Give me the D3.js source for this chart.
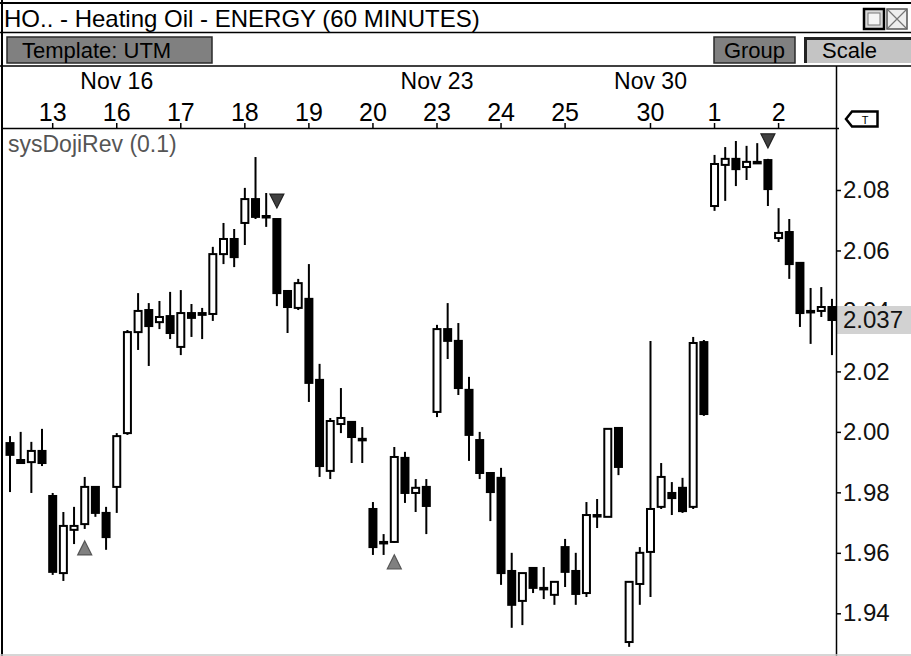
<!DOCTYPE html>
<html lang="en">
<head>
<meta charset="utf-8">
<title>HO - Heating Oil 60 min</title>
<script src="https://d3js.org/d3.v7.min.js"></script>
<style>
  html, body { margin: 0; padding: 0; background: #fff; }
  svg { display: block; font-family: "Liberation Sans", Arial, sans-serif; }
</style>
</head>
<body>
<svg id="chart" width="911" height="656"></svg>
<script>
// hourly bars, Nov 12 (partial) .. Dec 2
const opens = [1.9963,1.9907,1.9900,1.9937,1.9788,1.9533,1.9676,1.9695,1.9818,1.9732,
  1.9818,1.9996,2.0330,2.0403,2.0363,2.0383,2.0281,2.0393,2.0393,2.0390,
  2.0588,2.0638,2.0691,2.0770,2.0714,2.0704,2.0466,2.0410,2.0440,2.0172,
  1.9871,2.0026,2.0033,1.9977,1.9745,1.9636,1.9636,1.9914,1.9798,1.9818,
  2.0066,2.0340,2.0301,2.0139,1.9973,1.9864,1.9848,1.9540,1.9441,1.9550,
  1.9484,1.9461,1.9619,1.9540,1.9467,1.9725,1.9719,2.0013,1.9305,1.9497,
  1.9603,1.9752,1.9798,1.9815,1.9752,2.0297,2.0747,2.0883,2.0903,2.0876,
  2.0893,2.0899,2.0641,2.0661,2.0559,2.0400,2.0400,2.0413];
const highs = [1.9986,2.0000,1.9967,2.0010,1.9798,1.9735,1.9752,1.9851,1.9818,1.9752,
  1.9996,2.0337,2.0459,2.0426,2.0433,2.0463,2.0469,2.0423,2.0410,2.0612,
  2.0691,2.0671,2.0807,2.0909,2.0790,2.0704,2.0466,2.0506,2.0555,2.0225,
  2.0046,2.0145,2.0033,2.0016,1.9768,1.9662,1.9950,1.9934,1.9844,1.9844,
  2.0354,2.0426,2.0360,2.0182,2.0000,1.9864,1.9881,1.9600,1.9533,1.9550,
  1.9553,1.9504,1.9646,1.9600,1.9768,1.9778,2.0010,2.0016,1.9504,1.9619,
  2.0301,1.9897,1.9834,1.9848,2.0314,2.0304,2.0916,2.0942,2.0962,2.0946,
  2.0955,2.0903,2.0740,2.0704,2.0559,2.0476,2.0479,2.0440];
const lows = [1.9801,1.9894,1.9798,1.9887,1.9527,1.9507,1.9629,1.9679,1.9719,1.9610,
  1.9732,1.9990,2.0271,2.0218,2.0340,2.0307,2.0254,2.0314,2.0307,2.0367,
  2.0555,2.0545,2.0618,2.0704,2.0678,2.0416,2.0327,2.0403,2.0099,1.9851,
  1.9844,1.9996,1.9897,1.9897,1.9593,1.9593,1.9633,1.9765,1.9735,1.9662,
  2.0049,2.0241,2.0122,1.9904,1.9844,1.9705,1.9494,1.9352,1.9361,1.9467,
  1.9447,1.9428,1.9487,1.9428,1.9454,1.9682,1.9719,1.9857,1.9289,1.9428,
  1.9454,1.9745,1.9725,1.9732,1.9745,2.0053,2.0731,2.0764,2.0813,2.0833,
  2.0886,2.0747,2.0628,2.0506,2.0347,2.0291,2.0380,2.0254];
const closes = [1.9924,1.9897,1.9937,1.9897,1.9537,1.9689,1.9689,1.9818,1.9732,1.9652,
  1.9986,2.0330,2.0400,2.0350,2.0380,2.0327,2.0393,2.0377,2.0387,2.0588,
  2.0638,2.0578,2.0770,2.0711,2.0711,2.0459,2.0413,2.0492,2.0162,1.9887,
  2.0036,2.0046,1.9983,1.9973,1.9619,1.9633,1.9917,1.9798,1.9815,1.9755,
  2.0340,2.0301,2.0145,1.9990,1.9864,1.9801,1.9533,1.9428,1.9533,1.9484,
  1.9481,1.9504,1.9537,1.9464,1.9725,1.9722,2.0010,1.9884,1.9504,1.9600,
  1.9745,1.9851,1.9781,1.9738,2.0294,2.0059,2.0886,2.0903,2.0869,2.0893,
  2.0889,2.0803,2.0658,2.0555,2.0393,2.0398,2.0413,2.0370];

// first bar of each labelled session
const dayBars = [4, 10, 16, 22, 28, 34, 40, 46, 52, 60, 66, 72];
const dayLabels = ["13", "16", "17", "18", "19", "20", "23", "24", "25", "30", "1", "2"];
const weekBars = [10, 40, 60];
const weekLabels = ["Nov 16", "Nov 23", "Nov 30"];

const priceTicks = [1.94, 1.96, 1.98, 2.00, 2.02, 2.04, 2.06, 2.08];
const lastPrice = 2.037;

// sysDojiRev signals
const signalBars = [7, 25, 36, 71];
const signalDirs = ["up", "down", "up", "down"];

const svg = d3.select('#chart');
const plot = {left: 3, right: 836, top: 129, bottom: 656};

const x = d3.scaleBand()
  .domain(d3.range(opens.length))
  .range([4.66, 837.3]);
const cx = i => x(i) + x.bandwidth() / 2;

const y = d3.scaleLinear()
  .domain([1.94, 2.08])
  .range([613.3, 190]);

svg.append('rect').attr('width', 911).attr('height', 656).attr('fill', '#fff');

svg.append('defs').append('clipPath').attr('id', 'plotClip')
  .append('rect')
    .attr('x', plot.left).attr('y', plot.top)
    .attr('width', plot.right - plot.left).attr('height', plot.bottom - plot.top);

// --- window frame / title bar
svg.append('line').attr('x1', 0).attr('x2', 911).attr('y1', 3).attr('y2', 3)
  .attr('stroke', '#000').attr('stroke-width', 2);
svg.append('line').attr('x1', 2).attr('x2', 2).attr('y1', 0).attr('y2', 656)
  .attr('stroke', '#000').attr('stroke-width', 2);
svg.append('text')
  .attr('x', 4).attr('y', 27)
  .style('font-size', '24px')
  .text('HO.. - Heating Oil - ENERGY (60 MINUTES)');

// title bar buttons
svg.append('rect').attr('x', 864).attr('y', 9).attr('width', 20).attr('height', 20)
  .attr('fill', '#d8d8d8').attr('stroke', '#000').attr('stroke-width', 2.5);
svg.append('rect').attr('x', 868).attr('y', 13).attr('width', 12).attr('height', 12)
  .attr('fill', '#f4f4f4').attr('stroke', '#777').attr('stroke-width', 1);
svg.append('rect').attr('x', 887).attr('y', 9).attr('width', 20).attr('height', 20)
  .attr('fill', '#eee').attr('stroke', '#555').attr('stroke-width', 1.5);
svg.append('path').attr('d', 'M888,10L906,28M906,10L888,28')
  .attr('stroke', '#777').attr('stroke-width', 1.2);

svg.append('line').attr('x1', 0).attr('x2', 911).attr('y1', 32.5).attr('y2', 32.5)
  .attr('stroke', '#000').attr('stroke-width', 1.5);

// --- toolbar
svg.append('rect').attr('x', 7).attr('y', 37).attr('width', 205).attr('height', 26)
  .attr('fill', '#808080').attr('stroke', '#2a2a2a').attr('stroke-width', 1.5);
svg.append('text').attr('x', 22).attr('y', 58).style('font-size', '22px').text('Template: UTM');

svg.append('rect').attr('x', 714).attr('y', 37).attr('width', 81).attr('height', 26)
  .attr('fill', '#808080').attr('stroke', '#2a2a2a').attr('stroke-width', 1.5);
svg.append('text').attr('x', 754.5).attr('y', 58).attr('text-anchor', 'middle')
  .style('font-size', '22px').text('Group');

svg.append('rect').attr('x', 804).attr('y', 37).attr('width', 110).attr('height', 26)
  .attr('fill', '#c4c4c4');
svg.append('path').attr('d', 'M805.5,63V38.5H911')
  .attr('fill', 'none').attr('stroke', '#222').attr('stroke-width', 3);
svg.append('text').attr('x', 822).attr('y', 58).style('font-size', '22px').text('Scale');

svg.append('line').attr('x1', 0).attr('x2', 911).attr('y1', 66).attr('y2', 66)
  .attr('stroke', '#000').attr('stroke-width', 1.5);

// --- time header
const header = svg.append('g');
header.selectAll('text.week')
  .data(weekBars)
  .enter().append('text')
    .attr('class', 'week')
    .attr('x', d => cx(d))
    .attr('y', 89)
    .attr('text-anchor', 'middle')
    .style('font-size', '23px')
    .text((d, i) => weekLabels[i]);

header.selectAll('text.day')
  .data(dayBars)
  .enter().append('text')
    .attr('class', 'day')
    .attr('x', d => cx(d))
    .attr('y', 121)
    .attr('text-anchor', 'middle')
    .style('font-size', '25px')
    .text((d, i) => dayLabels[i]);

header.selectAll('line.tick')
  .data(dayBars)
  .enter().append('line')
    .attr('class', 'tick')
    .attr('x1', d => cx(d)).attr('x2', d => cx(d))
    .attr('y1', 123).attr('y2', 128)
    .attr('stroke', '#000').attr('stroke-width', 1.5);

svg.append('line').attr('x1', plot.left).attr('x2', 839).attr('y1', 128.5).attr('y2', 128.5)
  .attr('stroke', '#000').attr('stroke-width', 1.5);

// --- candles
const bars = opens.map((o, i) => ({i: i, o: o, h: highs[i], l: lows[i], c: closes[i]}));

const plotG = svg.append('g').attr('clip-path', 'url(#plotClip)');

const candle = plotG.selectAll('g.candle')
  .data(bars)
  .enter().append('g')
    .attr('class', 'candle')
    .attr('transform', d => 'translate(' + cx(d.i) + ',0)');

candle.append('line')
  .attr('y1', d => y(d.h))
  .attr('y2', d => y(d.l))
  .attr('stroke', '#000')
  .attr('stroke-width', 2);

candle.append('rect')
  .attr('x', -3.5)
  .attr('width', 7)
  .attr('y', d => y(Math.max(d.o, d.c)))
  .attr('height', d => Math.max(1.5, Math.abs(y(d.o) - y(d.c))))
  .attr('fill', d => d.c > d.o ? '#fff' : '#000')
  .attr('stroke', '#000')
  .attr('stroke-width', 2);

// signal triangles
plotG.selectAll('path.signal')
  .data(signalBars)
  .enter().append('path')
    .attr('class', 'signal')
    .attr('d', (d, i) => {
      const px = cx(d);
      if (signalDirs[i] === 'up') {
        const top = y(lows[d]) + 12;
        return 'M' + px + ',' + top + 'L' + (px + 7) + ',' + (top + 14) + 'L' + (px - 7) + ',' + (top + 14) + 'Z';
      }
      const bot = y(highs[d]) - 11;
      return 'M' + px + ',' + bot + 'L' + (px + 7) + ',' + (bot - 14) + 'L' + (px - 7) + ',' + (bot - 14) + 'Z';
    })
    .attr('fill', (d, i) => signalDirs[i] === 'up' ? '#808080' : '#404040')
    .attr('stroke', (d, i) => signalDirs[i] === 'up' ? '#555' : '#222')
    .attr('stroke-width', 1.2);

svg.append('text')
  .attr('x', 8).attr('y', 152)
  .attr('fill', '#555')
  .style('font-size', '23px')
  .text('sysDojiRev (0.1)');

// --- price axis
const axis = svg.append('g')
  .attr('transform', 'translate(' + plot.right + ',0)')
  .call(d3.axisRight(y).tickValues(priceTicks).tickSize(5).tickPadding(2).tickFormat(d3.format('.2f')));
axis.select('.domain').remove();
axis.selectAll('.tick line').attr('stroke', '#000').attr('stroke-width', 1.5);
axis.selectAll('.tick text')
  .attr('fill', '#111')
  .style('font-size', '24px')
  .style('font-family', '"Liberation Sans", Arial, sans-serif');

svg.append('rect')
  .attr('x', plot.right + 1).attr('y', y(lastPrice) - 14)
  .attr('width', 911 - plot.right).attr('height', 28)
  .attr('fill', '#d2d2d2');
svg.append('text')
  .attr('x', 843).attr('y', y(lastPrice))
  .attr('dy', '0.35em')
  .attr('fill', '#111')
  .style('font-size', '24px')
  .text(d3.format('.3f')(lastPrice));

svg.append('line').attr('x1', 836.5).attr('x2', 836.5).attr('y1', 66).attr('y2', 656)
  .attr('stroke', '#000').attr('stroke-width', 1.5);

// "T" tag
svg.append('path')
  .attr('d', 'M846,119L852,111.5H877.5V126.5H852Z')
  .attr('fill', '#fff').attr('stroke', '#000').attr('stroke-width', 2.5);
svg.append('text').attr('x', 865).attr('y', 123.5).attr('text-anchor', 'middle')
  .style('font-size', '11px').text('T');

svg.append('line').attr('x1', 0).attr('x2', 911).attr('y1', 655).attr('y2', 655)
  .attr('stroke', '#c8c8c8').attr('stroke-width', 1.5);
</script>
</body>
</html>
